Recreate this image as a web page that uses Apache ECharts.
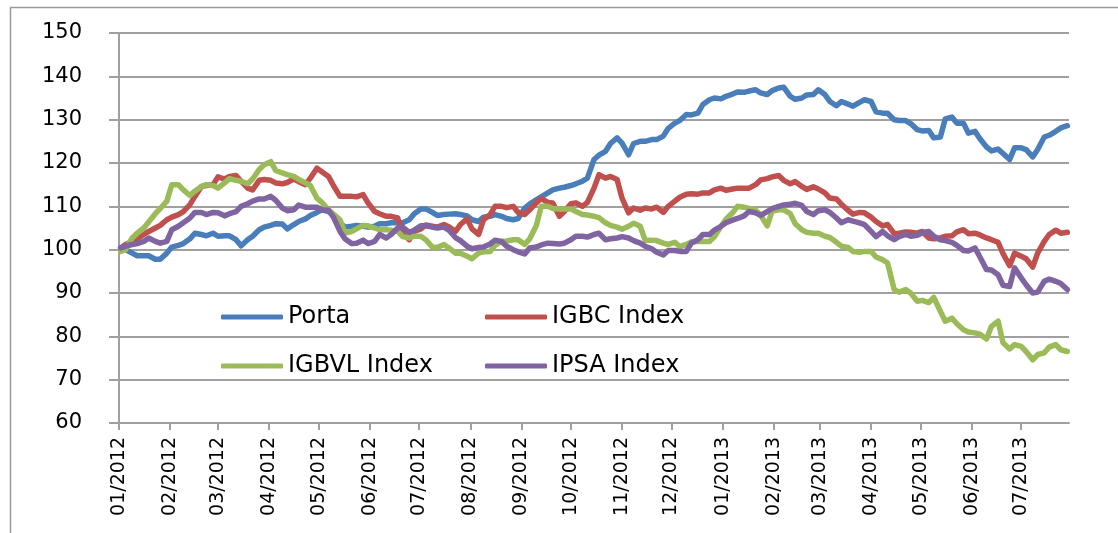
<!DOCTYPE html>
<html lang="en">
<head>
    <meta charset="UTF-8"/>
    <title>Porta vs indices</title>
    <script src="https://cdn.jsdelivr.net/npm/echarts@6/dist/echarts.min.js"></script>
    <style>
        html, body { margin: 0; padding: 0; background: #fff; }
    </style>
</head>
<body>
<div id="main" style="width: 1118px;height:533px;"></div>
<script type="text/javascript">
    // two observations a week: Mondays (from 2012-01-02) and the Thursdays after them
    var startDate = '2012-01-02';
    var axisStart = '2012-01-01';
    var axisEnd = '2013-07-30';
    var monthTicks = ['2012-01-01', '2012-02-01', '2012-03-01', '2012-04-01', '2012-05-01', '2012-06-01',
        '2012-07-01', '2012-08-01', '2012-09-01', '2012-10-01', '2012-11-01', '2012-12-01',
        '2013-01-01', '2013-02-01', '2013-03-01', '2013-04-01', '2013-05-01', '2013-06-01', '2013-07-01'];
    var yTicks = [60, 70, 80, 90, 100, 110, 120, 130, 140, 150];

    var portaMon = [100.4, 99.2, 98.6, 97.8, 99.2, 101.0, 102.5, 103.5, 103.8, 103.2, 102.3, 102.3, 104.6, 105.6,
        105.9, 105.8, 107.1, 108.6, 108.8, 106.2, 105.4, 105.4, 105.4, 106.0, 106.2, 106.9, 109.4, 108.6,
        108.1, 108.3, 107.8, 106.5, 107.7, 107.7, 106.9, 109.6, 111.5, 113.1, 114.2, 114.8, 115.8, 120.8,
        122.7, 125.8, 121.9, 125.0, 125.4, 126.2, 129.2, 131.2, 131.5, 134.6, 134.8, 135.9, 136.3, 136.9,
        135.8, 137.3, 135.4, 135.0, 135.8, 135.8, 133.2, 133.6, 134.0, 134.2, 131.5, 130.0, 129.8, 127.7,
        127.5, 126.0, 130.6, 129.2, 127.3, 123.7, 123.2, 120.8, 123.5, 121.4, 126.0, 127.3, 128.6];
    var portaThu = [100.0, 98.6, 98.6, 97.8, 100.6, 101.4, 103.8, 103.2, 103.1, 103.2, 100.9, 103.1, 105.2, 106.0,
        104.8, 106.5, 107.9, 109.2, 108.0, 105.2, 105.6, 105.2, 106.0, 106.2, 106.2, 108.3, 109.4, 107.9,
        108.2, 108.1, 106.9, 107.5, 108.1, 107.2, 107.2, 110.5, 112.2, 113.8, 114.4, 115.2, 116.5, 121.8,
        124.5, 124.6, 124.5, 125.0, 125.4, 128.0, 129.8, 131.1, 133.5, 135.0, 135.4, 136.4, 136.6, 136.2,
        136.7, 137.5, 134.7, 135.7, 136.9, 134.2, 134.2, 133.1, 134.6, 131.8, 131.5, 129.8, 129.1,
        127.4, 125.8, 130.2, 129.2, 126.9, 125.6, 122.8, 122.2, 123.5, 123.1, 123.1, 126.4, 128.1];

    var igbcMon = [100.4, 101.9, 103.5, 105.0, 106.9, 108.1, 110.4, 114.6, 115.0, 116.3, 117.1, 114.2, 116.0, 116.0,
        115.2, 116.3, 115.0, 118.8, 116.9, 112.3, 112.3, 112.7, 108.8, 107.7, 107.3, 102.3, 104.8, 105.4,
        105.8, 104.2, 107.1, 103.5, 108.1, 110.0, 110.0, 108.1, 110.8, 110.9, 107.7, 110.6, 110.0, 114.2,
        116.5, 116.2, 108.5, 109.1, 109.4, 108.6, 111.2, 112.8, 112.8, 113.1, 114.2, 114.0, 114.2, 115.0,
        116.4, 117.1, 115.2, 114.6, 114.5, 113.1, 111.7, 109.1, 108.6, 107.5, 105.5, 103.7, 104.1, 103.8,
        102.7, 102.7, 103.2, 104.6, 103.8, 102.7, 101.7, 96.3, 98.5, 96.0, 101.9, 104.5, 104.0];
    var igbcThu = [101.2, 102.5, 104.2, 105.6, 107.5, 108.8, 112.3, 114.8, 116.8, 116.9, 115.8, 113.8, 116.2, 115.4,
        115.5, 115.7, 116.5, 118.0, 114.8, 112.3, 112.2, 110.8, 108.3, 107.7, 103.8, 104.2, 105.7, 105.2,
        105.3, 105.8, 104.8, 106.9, 110.0, 109.7, 108.6, 109.2, 111.8, 110.8, 108.8, 110.8, 110.9, 117.3,
        116.9, 111.9, 109.6, 109.6, 109.8, 110.0, 112.1, 112.9, 113.1, 113.8, 113.7, 114.2, 114.2, 116.1,
        116.8, 116.0, 115.7, 113.9, 114.0, 111.9, 110.5, 108.2, 108.5, 106.5, 105.8, 103.8, 104.0,
        104.2, 102.5, 103.1, 104.1, 103.7, 103.4, 102.3, 99.1, 99.2, 97.9, 99.2, 103.5, 103.8];

    var igbvlMon = [99.6, 102.7, 105.0, 108.3, 111.2, 115.0, 112.5, 114.6, 114.8, 115.4, 116.0, 115.2, 118.5, 120.3,
        117.7, 116.9, 115.4, 111.9, 109.2, 106.9, 104.2, 105.6, 105.0, 104.6, 104.2, 102.7, 103.1, 100.6,
        101.2, 99.2, 98.5, 99.2, 99.6, 101.9, 102.3, 101.2, 105.5, 110.0, 109.4, 109.4, 108.1, 107.7,
        106.2, 105.2, 105.4, 105.4, 102.2, 101.5, 101.7, 101.2, 101.9, 101.9, 105.4, 108.5, 109.8, 109.1,
        105.5, 109.2, 108.3, 104.6, 103.8, 103.1, 101.7, 100.5, 99.4, 99.6, 97.7, 90.8, 90.8, 88.1,
        87.8, 85.8, 84.2, 81.5, 80.8, 79.4, 83.5, 77.1, 77.7, 74.6, 76.2, 78.1, 76.5];
    var igbvlThu = [100.0, 103.8, 106.4, 109.5, 115.0, 113.8, 113.5, 115.0, 114.2, 116.4, 115.8, 116.3, 119.6, 118.3,
        117.3, 116.2, 114.8, 110.9, 108.2, 103.8, 104.8, 105.5, 104.6, 104.5, 103.0, 103.1, 102.3, 100.5,
        100.4, 99.2, 97.9, 99.5, 101.0, 102.0, 102.3, 102.5, 110.0, 109.5, 109.4, 108.8, 108.0, 107.4,
        105.6, 104.7, 106.1, 102.2, 102.1, 101.2, 100.7, 101.8, 101.9, 103.0, 107.0, 110.0, 109.5, 108.0,
        108.9, 109.2, 106.0, 104.0, 103.8, 102.8, 100.8, 99.6, 99.6, 98.3, 96.9, 90.2, 90.0,
        88.3, 89.0, 83.5, 82.9, 81.0, 80.5, 82.3, 78.5, 78.1, 76.5, 75.8, 77.5, 76.9];

    var ipsaMon = [100.4, 101.2, 101.9, 101.9, 101.9, 105.4, 107.3, 108.6, 108.6, 107.8, 108.8, 110.6, 111.7, 112.3,
        109.6, 109.2, 109.8, 109.8, 109.1, 104.2, 101.4, 102.2, 101.9, 102.7, 105.0, 104.0, 105.5, 105.2,
        105.2, 102.8, 100.8, 100.5, 101.3, 101.9, 100.0, 99.0, 100.6, 101.5, 101.3, 102.3, 103.1, 103.5,
        102.3, 102.7, 102.7, 101.5, 100.2, 98.8, 99.8, 99.6, 102.3, 103.5, 105.4, 106.8, 107.8, 108.5,
        108.8, 110.0, 110.5, 110.2, 108.1, 109.2, 107.3, 106.9, 106.2, 104.2, 104.2, 102.3, 103.5, 103.3,
        104.2, 102.3, 101.7, 99.8, 100.4, 95.4, 94.2, 91.5, 93.5, 90.0, 92.7, 92.7, 90.8];
    var ipsaThu = [100.8, 101.4, 102.7, 101.5, 104.6, 106.2, 108.6, 108.1, 108.5, 108.3, 110.0, 111.2, 111.7, 111.4,
        109.0, 110.3, 109.8, 109.2, 107.5, 102.5, 101.5, 101.4, 103.5, 103.5, 105.2, 104.5, 105.5, 105.0,
        104.5, 102.1, 100.2, 100.6, 102.2, 100.8, 99.5, 100.4, 101.1, 101.4, 101.5, 103.1, 102.9, 103.8,
        102.5, 103.0, 102.1, 100.8, 99.4, 99.8, 99.6, 101.5, 103.5, 104.5, 106.2, 107.2, 108.8, 107.9,
        109.5, 110.3, 110.7, 108.8, 109.0, 108.6, 106.2, 106.6, 105.8, 103.0, 103.2, 103.0, 103.1,
        103.9, 103.1, 102.1, 101.0, 99.7, 98.3, 95.3, 91.8, 95.8, 91.9, 90.2, 93.2, 92.2];

    var names = ['Porta', 'IGBC Index', 'IGBVL Index', 'IPSA Index'];
    var colors = ['#4a7ebb', '#c0504d', '#9bbb59', '#8064a2'];

    function ts(s) {
        return new Date(s + 'T00:00:00').getTime();
    }
    function dayAfter(days) {
        var d = new Date(startDate + 'T00:00:00');
        d.setDate(d.getDate() + days);
        return d.getTime();
    }
    // merge Monday and Thursday samples into one dated series
    function series(mon, thu) {
        var out = [];
        for (var k = 0; k < mon.length; k++) {
            out.push([dayAfter(7 * k), mon[k]]);
            if (k < thu.length) out.push([dayAfter(7 * k + 3), thu[k]]);
        }
        return out;
    }
    var tickTimes = monthTicks.map(ts);

    var gray = '#a0a0a0';
    var font = 'DejaVu Sans';

    var myChart = echarts.init(document.getElementById('main'));

    var legendCommon = {
        orient: 'vertical',
        top: 305,
        padding: 0,
        icon: 'roundRect',
        itemWidth: 62, itemHeight: 5, itemGap: 25,
        textStyle: {fontFamily: font, fontSize: 24, lineHeight: 24, color: '#000'}
    };

    var option = {
        animation: false,
        color: colors,
        grid: {left: 119, right: 49, top: 33, bottom: 110, containLabel: false},
        graphic: [{
            type: 'rect',
            shape: {x: 10.5, y: 7.5, width: 1300, height: 700},
            style: {fill: null, stroke: '#9a9a9a', lineWidth: 1.5},
            silent: true
        }],
        legend: [
            Object.assign({data: ['Porta', 'IGBVL Index'], left: 221}, legendCommon),
            Object.assign({data: ['IGBC Index', 'IPSA Index'], left: 485}, legendCommon)
        ],
        xAxis: {
            type: 'value',
            min: ts(axisStart),
            max: ts(axisEnd),
            axisLine: {lineStyle: {color: gray, width: 2}},
            axisTick: {show: true, length: 7, lineStyle: {color: gray, width: 2}, customValues: tickTimes},
            splitLine: {show: false},
            axisLabel: {
                customValues: tickTimes,
                rotate: 90,
                margin: 14,
                fontFamily: font,
                fontSize: 19,
                color: '#000',
                formatter: function (value) {
                    var t = new Date(value);
                    var m = t.getMonth() + 1;
                    return (m < 10 ? '0' + m : '' + m) + '/' + t.getFullYear();
                }
            }
        },
        yAxis: {
            type: 'value',
            min: yTicks[0],
            max: yTicks[yTicks.length - 1],
            interval: 10,
            axisLine: {show: true, lineStyle: {color: gray, width: 2}},
            axisTick: {show: true, length: 10, lineStyle: {color: gray, width: 2}},
            splitLine: {lineStyle: {color: gray, width: 2}},
            axisLabel: {margin: 37, fontFamily: font, fontSize: 21, color: '#000'}
        },
        series: [
            [portaMon, portaThu], [igbcMon, igbcThu], [igbvlMon, igbvlThu], [ipsaMon, ipsaThu]
        ].map(function (pair, k) {
            return {
                name: names[k],
                type: 'line',
                symbol: 'none',
                data: series(pair[0], pair[1]),
                lineStyle: {width: 5.5, color: colors[k], join: 'round', cap: 'round'},
                itemStyle: {color: colors[k]},
                z: 2 + k
            };
        })
    };

    myChart.setOption(option);
</script>
</body>
</html>
